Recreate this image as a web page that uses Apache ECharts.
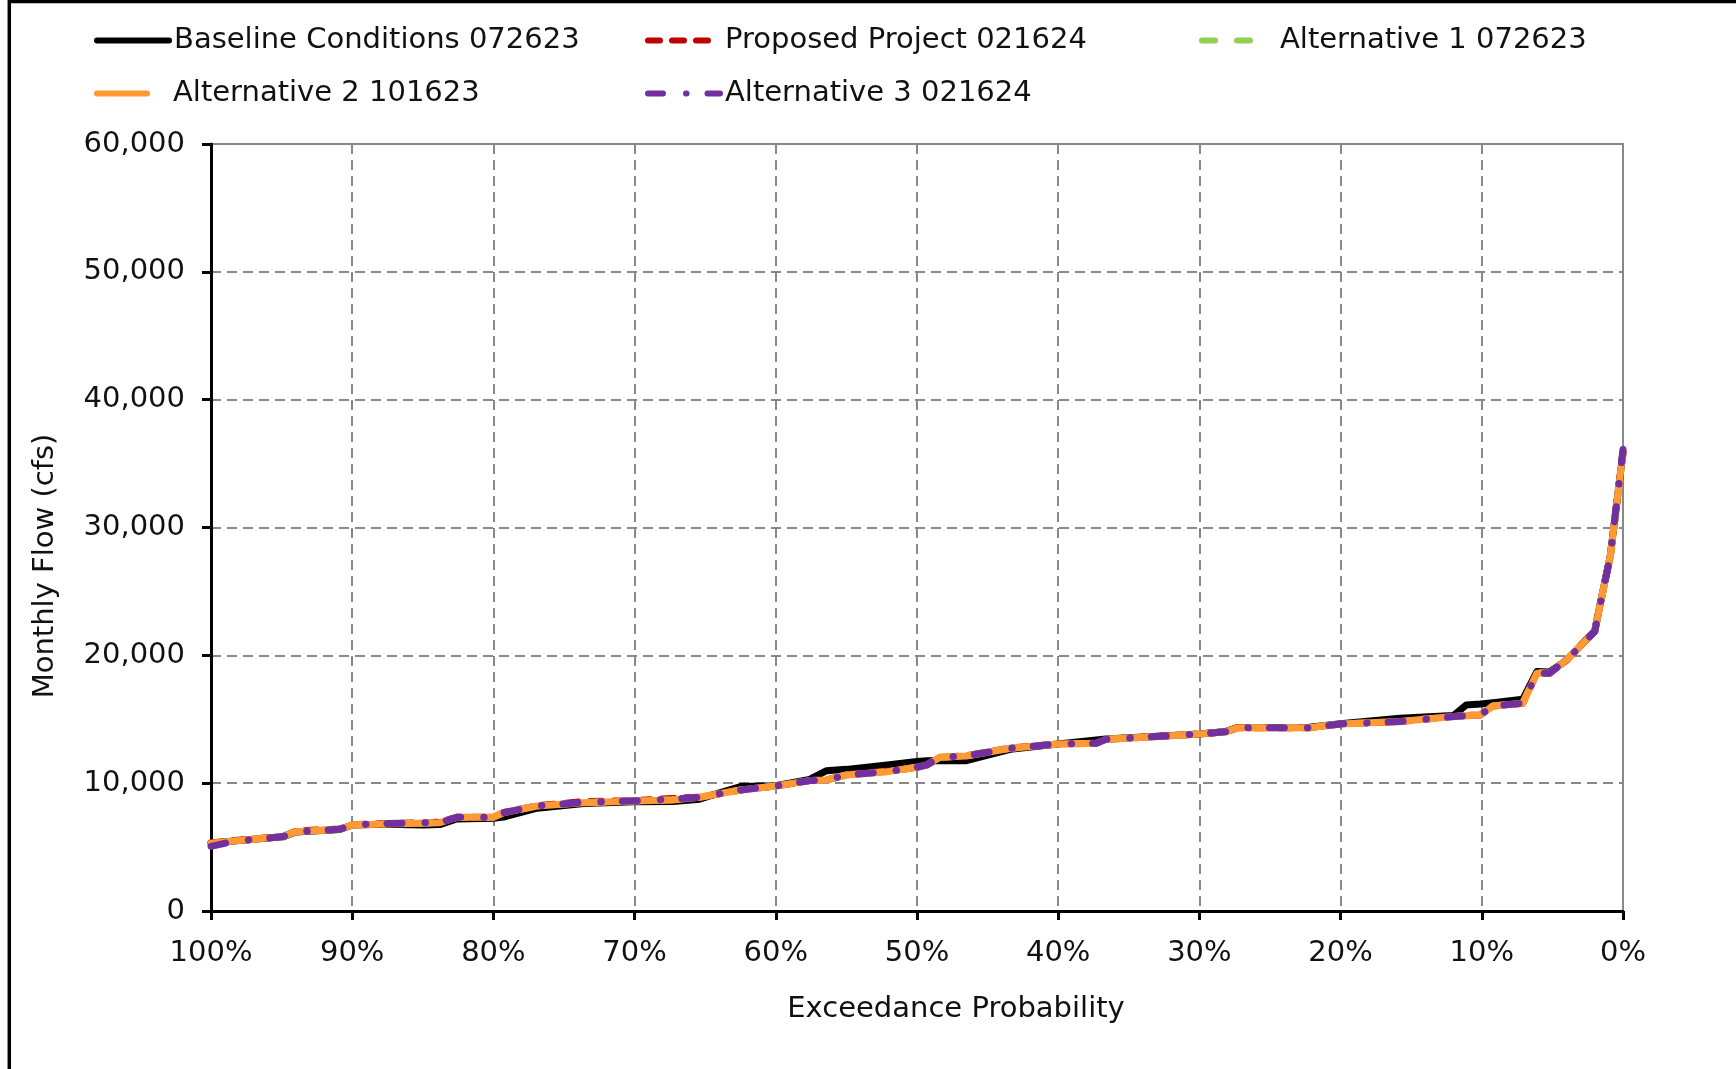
<!DOCTYPE html>
<html>
<head>
<meta charset="utf-8">
<title>Monthly Flow Exceedance</title>
<script src="https://cdn.jsdelivr.net/npm/echarts@6/dist/echarts.min.js"></script>
<style>
  html, body { margin: 0; padding: 0; background: #fff; }
  #chart { width: 1736px; height: 1069px; }
</style>
</head>
<body>
<div id="chart"></div>
<script>
// exceedance probability (%) of each vertex, shared by all series
const exceedPct = [100, 98.4, 94.9, 94.0, 90.9, 90.0, 87.6, 85.0, 83.8, 82.6, 80.0, 79.3, 76.9, 73.6, 70.1, 67.3, 65.4, 64.1, 62.5, 60.0,
  57.6, 56.4, 55.0, 52.1, 50.0, 49.3, 48.4, 46.5, 43.4, 40.0, 37.3, 36.6, 32.3, 30.0, 28.1, 27.3, 22.2, 20.0, 15.8, 12.0,
  11.1, 10.1, 9.2, 7.1, 6.1, 5.2, 4.0, 2.0, 1.6, 0.9, 0];

// monthly flow (cfs)
const baseline = [5300, 5470, 5800, 6180, 6380, 6720, 6780, 6730, 6760, 7200, 7250, 7350, 8040, 8400, 8550, 8560, 8750, 9200, 9730, 9800,
  10300, 10980, 11080, 11430, 11700, 11750, 11770, 11760, 12650, 13070, 13380, 13450, 13700, 13850, 14050, 14350, 14380, 14650, 15080, 15300,
  16120, 16200, 16300, 16560, 18730, 18700, 19600, 21900, 24100, 27800, 35900];
const proposed = [5320, 5500, 5830, 6250, 6420, 6740, 6840, 6900, 6950, 7330, 7330, 7700, 8230, 8560, 8620, 8800, 8900, 9150, 9470, 9780,
  10200, 10250, 10650, 10950, 11240, 11430, 12000, 12150, 12740, 13070, 13130, 13430, 13700, 13850, 14030, 14340, 14340, 14630, 14830, 15220,
  15300, 15340, 16040, 16250, 18650, 18600, 19650, 21900, 24100, 27750, 35800];
const alt1 = [5250, 5480, 5820, 6200, 6400, 6730, 6820, 6880, 6920, 7330, 7340, 7690, 8220, 8480, 8600, 8700, 8900, 9150, 9470, 9780,
  10200, 10250, 10640, 10900, 11240, 11430, 12020, 12130, 12730, 13070, 13120, 13430, 13690, 13850, 14030, 14340, 14340, 14630, 14820, 15210,
  15280, 15340, 16040, 16250, 18650, 18600, 19640, 21860, 24080, 27730, 35700];
const alt2 = [5300, 5480, 5820, 6200, 6390, 6730, 6810, 6870, 6910, 7330, 7330, 7690, 8220, 8470, 8600, 8690, 8900, 9150, 9470, 9780,
  10200, 10250, 10640, 10900, 11240, 11430, 12020, 12130, 12730, 13070, 13120, 13430, 13690, 13850, 14030, 14340, 14340, 14630, 14820, 15210,
  15280, 15340, 16040, 16250, 18600, 18600, 19640, 21860, 24080, 27730, 35900];
const alt3 = [5050, 5450, 5820, 6200, 6390, 6730, 6850, 6900, 6920, 7330, 7330, 7690, 8220, 8500, 8620, 8750, 8900, 9150, 9470, 9780,
  10200, 10250, 10640, 10900, 11240, 11430, 12020, 12130, 12730, 13070, 13120, 13430, 13690, 13850, 14030, 14340, 14340, 14630, 14820, 15210,
  15280, 15340, 16040, 16250, 18600, 18600, 19640, 21860, 24080, 27730, 36100];

const seriesNames = ["Baseline Conditions 072623", "Proposed Project 021624", "Alternative 1 072623", "Alternative 2 101623", "Alternative 3 021624"];
const yTicks = [0, 10000, 20000, 30000, 40000, 50000, 60000];

const FONT = "DejaVu Sans";
const LW = 7;
const pair = (vals) => vals.map((v, i) => [exceedPct[i], v]);

const lineSeries = (name, data, color, type) => ({
  name,
  type: "line",
  data: pair(data),
  symbol: "none",
  smooth: false,
  lineStyle: { color, width: LW, type, cap: "round", join: "round" },
  itemStyle: { color },
  emphasis: { disabled: true },
});

const legendItem = (name, left, top, itemWidth, gap = 0) => ({
  data: [name],
  left,
  top,
  padding: 0,
  itemWidth,
  itemHeight: 10,
  lineStyle: { width: 6 },
  itemStyle: { opacity: 0, borderWidth: 0 },
  textStyle: { fontFamily: FONT, fontSize: 29, color: "#111", padding: [0, 0, 0, gap] },
});

const chart = echarts.init(document.getElementById("chart"));

const option = {
  animation: false,
  backgroundColor: "#fff",
  textStyle: { fontFamily: FONT },
  grid: {
    left: 211,
    right: 113,
    top: 144,
    bottom: 158,
    show: true,
    borderColor: "#888",
    borderWidth: 2,
    outerBoundsMode: "none",
  },
  legend: [
    legendItem(seriesNames[0], 94, 26, 72),
    legendItem(seriesNames[1], 645, 26, 72),
    legendItem(seriesNames[2], 1199, 26, 55, 18),
    legendItem(seriesNames[3], 94, 79, 50, 21),
    legendItem(seriesNames[4], 645, 79, 72),
  ],
  xAxis: {
    type: "value",
    min: 0,
    max: 100,
    interval: 10,
    inverse: true,
    name: "Exceedance Probability",
    nameLocation: "middle",
    nameGap: 84,
    nameTextStyle: { fontFamily: FONT, fontSize: 29, color: "#111", padding: [0, 0, 0, 78] },
    axisLine: { show: true, onZero: false, lineStyle: { color: "#000", width: 3 } },
    axisTick: { show: true, inside: false, length: 9, lineStyle: { color: "#000", width: 3 } },
    axisLabel: { margin: 28, fontFamily: FONT, fontSize: 29, color: "#111", formatter: (v) => v + "%" },
    splitLine: { show: true, lineStyle: { color: "#888", width: 2, type: [10, 6] } },
  },
  yAxis: {
    type: "value",
    min: yTicks[0],
    max: yTicks[yTicks.length - 1],
    interval: 10000,
    axisLine: { show: true, onZero: false, lineStyle: { color: "#000", width: 3 } },
    axisTick: { show: true, inside: false, length: 9, lineStyle: { color: "#000", width: 3 } },
    axisLabel: {
      margin: 26,
      fontFamily: FONT,
      fontSize: 29,
      color: "#111",
      formatter: (v) => v.toLocaleString("en-US"),
    },
    splitLine: { show: true, lineStyle: { color: "#888", width: 2, type: [10, 6] } },
  },
  graphic: [
    {
      type: "rect",
      silent: true,
      shape: { x: 9.3, y: 1.5, width: 2000, height: 2000 },
      style: { fill: "none", stroke: "#000", lineWidth: 3.5 },
    },
    {
      type: "text",
      silent: true,
      x: 45,
      y: 566,
      rotation: Math.PI / 2,
      style: {
        text: "Monthly Flow (cfs)",
        font: '29px "DejaVu Sans"',
        fill: "#111",
        align: "center",
        verticalAlign: "middle",
      },
    },
  ],
  series: [
    lineSeries(seriesNames[0], baseline, "#000000", "solid"),
    lineSeries(seriesNames[1], proposed, "#C00000", [12, 12]),
    lineSeries(seriesNames[2], alt1, "#92D050", [13, 22]),
    lineSeries(seriesNames[3], alt2, "#FF9933", "solid"),
    lineSeries(seriesNames[4], alt3, "#7030A0", [15, 23, 0.5, 21]),
  ],
};

chart.setOption(option);
</script>
</body>
</html>
